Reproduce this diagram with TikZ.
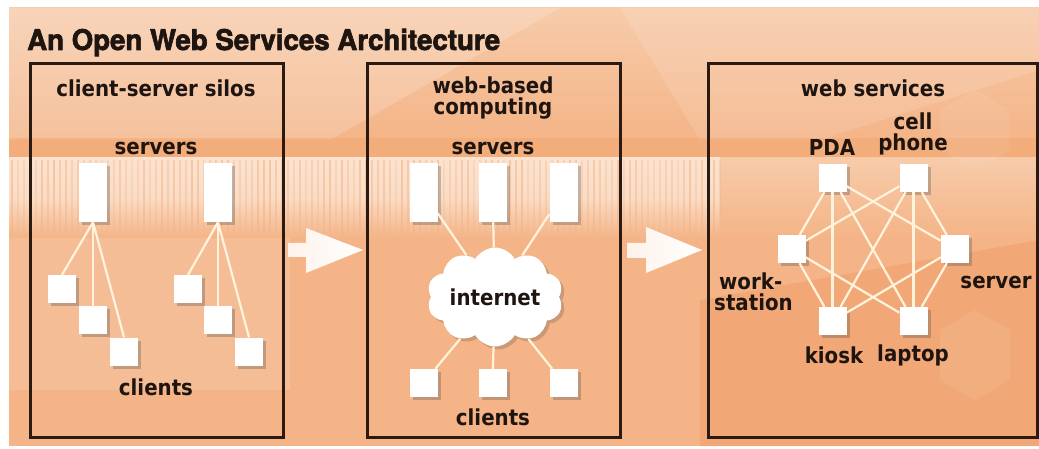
\documentclass[tikz,border=0pt]{standalone}
\usepackage{fontspec}
\setmainfont{DejaVu Sans Condensed}
\newfontfamily\titlefont{TeX Gyre Heros}[FakeStretch=0.97,FakeBold=2.2]
\usetikzlibrary{shapes.symbols,shadows}
\definecolor{bgbase}{HTML}{F4B487}
\definecolor{bgtop}{HTML}{F7CBAA}
\definecolor{bgband}{HTML}{F2A872}
\definecolor{bgstripe}{HTML}{FBE3D0}
\definecolor{bglow}{HTML}{F4B58B}
\definecolor{bgdark}{HTML}{EFA06C}
\definecolor{ink}{HTML}{1E1410}
\definecolor{framec}{HTML}{2A1A12}
\definecolor{linkc}{HTML}{FFF3DC}
\begin{document}
\begin{tikzpicture}[x=1pt,y=-1pt,
  lbl/.style={font=\fontsize{22}{21}\selectfont\bfseries, text=ink, inner sep=0pt, align=center},
  box/.style={fill=white, inner sep=0pt, drop shadow={shadow xshift=3pt, shadow yshift=-3pt, opacity=0.3, fill=black!70}},
  srv/.style={box, minimum width=28pt, minimum height=59pt},
  cli/.style={box, minimum width=28pt, minimum height=28pt},
  link/.style={draw=linkc, line width=2.2pt},
  frame/.style={draw=framec, line width=3pt}]
\useasboundingbox (0,0) rectangle (1039,449);
% ---------- background ----------
\fill[white] (0,0) rectangle (1039,449);
\fill[bgbase] (9,8) rectangle (1039,446);
\shade[top color=bgtop, bottom color=bgbase] (9,8) rectangle (1039,140);
\fill[white,opacity=0.18] (9,8) -- (560,8) -- (330,140) -- (9,140) -- cycle;
\fill[white,opacity=0.12] (620,8) -- (1039,8) -- (1039,70) -- (820,140) -- (700,140) -- cycle;
\fill[bgband,opacity=0.55] (9,138) rectangle (1039,158);
% striped band
\shade[top color=bgstripe, bottom color=bgbase, middle color=bgstripe!85!bgbase] (9,158) rectangle (720,238);
\shade[top color=bgtop, bottom color=bgbase] (720,158) rectangle (1039,238);
\pgfmathsetseed{7}
\foreach \i in {0,...,118}{
  \pgfmathsetmacro{\xx}{12+6*\i}
  \pgfmathsetmacro{\op}{0.25+0.35*rnd}
  \draw[bgbase,opacity=\op,line width=2pt] (\xx,160) -- (\xx,236);
}
\fill[white,opacity=0.12] (9,238) rectangle (290,390);
\fill[bgdark,opacity=0.6] (700,300) -- (1039,240) -- (1039,446) -- (700,446) -- cycle;
\fill[white,opacity=0.07] (975,310) -- (1010,330) -- (1010,380) -- (975,400) -- (940,380) -- (940,330) -- cycle;
\fill[white,opacity=0.07] (975,90) -- (1010,110) -- (1010,150) -- (975,170) -- (940,150) -- (940,110) -- cycle;
% ---------- title ----------
\node[anchor=base west, inner sep=0pt, text=ink, font=\titlefont\fontsize{28.5}{30}\selectfont\bfseries] (title) at (27,50) {An Open Web Services Architecture};
% ---------- frames ----------
\draw[frame] (30,64) rectangle (283,437);
\draw[frame] (367,64) rectangle (620,437);
\draw[frame] (708,64) rectangle (1037,437);
% ---------- transition arrows ----------
\shade[left color=white!55!bgstripe, right color=white] (288,243) -- (306,243) -- (306,228) -- (363,250) -- (306,273) -- (306,257) -- (288,257) -- cycle;
\shade[left color=white!55!bgstripe, right color=white] (627,243) -- (646,243) -- (646,227) -- (702,250) -- (646,273) -- (646,258) -- (627,258) -- cycle;
% ---------- panel 1: client-server silos ----------
\node[lbl] (t1) at (156,88) {client-server silos};
\node[lbl] (sv1) at (156,148) {servers};
\node[srv] (s1) at (93,192.5) {};
\node[srv] (s2) at (218,192.5) {};
\node[cli] (c1) at (62,289) {};
\node[cli] (c2) at (93,320) {};
\node[cli] (c3) at (124,351.5) {};
\node[cli] (c4) at (188,289) {};
\node[cli] (c5) at (218,320) {};
\node[cli] (c6) at (249,351.5) {};
\foreach \c in {c1,c2,c3} \draw[link] (s1.south) -- (\c.north);
\foreach \c in {c4,c5,c6} \draw[link] (s2.south) -- (\c.north);
\node[lbl] (cl1) at (156,387) {clients};
% ---------- panel 2: web-based computing ----------
\node[lbl] (t2) at (493,98) {web-based\\computing};
\node[lbl] (sv2) at (493,148) {servers};
\node[srv] (w1) at (423.5,192.5) {};
\node[srv] (w2) at (492.5,192.5) {};
\node[srv] (w3) at (563.5,192.5) {};
\node[cloud, cloud puffs=10, cloud puff arc=120, aspect=1.6, fill=white, draw=none,
  minimum width=136pt, minimum height=86pt, inner sep=0pt, text=ink,
  font=\fontsize{22}{21}\selectfont\bfseries,
  drop shadow={shadow xshift=3pt, shadow yshift=-3pt, opacity=0.25, fill=black!70}] (net) at (495,297) {internet};
\node[cli] (k1) at (423.5,383) {};
\node[cli] (k2) at (492.5,383) {};
\node[cli] (k3) at (563.5,383) {};
\foreach \c in {w1,w2,w3,k1,k2,k3} \draw[link] (\c) -- (net);
\node[lbl] (cl2) at (493,417) {clients};
% ---------- panel 3: web services ----------
\node[lbl] (t3) at (873,88) {web services};
\node[cli] (pda) at (832.5,178) {};
\node[cli] (cell) at (913.5,178) {};
\node[cli] (ws) at (791.5,249) {};
\node[cli] (sv) at (955,249) {};
\node[cli] (kio) at (832.5,321) {};
\node[cli] (lap) at (913.5,321) {};
\foreach \a/\b in {pda/ws,pda/kio,pda/lap,pda/sv,cell/ws,cell/kio,cell/lap,cell/sv,ws/kio,ws/lap,sv/kio,sv/lap}
  \draw[link] (\a) -- (\b);
\node[lbl] (lpda) at (832,147) {PDA};
\node[lbl] (lcell) at (913,134) {cell\\phone};
\node[lbl, align=left, anchor=west] (lws) at (714,292) {\hspace{5pt}work-\\station};
\node[lbl] (lsv) at (996,282) {server};
\node[lbl] (lkio) at (834,355) {kiosk};
\node[lbl] (llap) at (913,355) {laptop};
\end{tikzpicture}
\end{document}
